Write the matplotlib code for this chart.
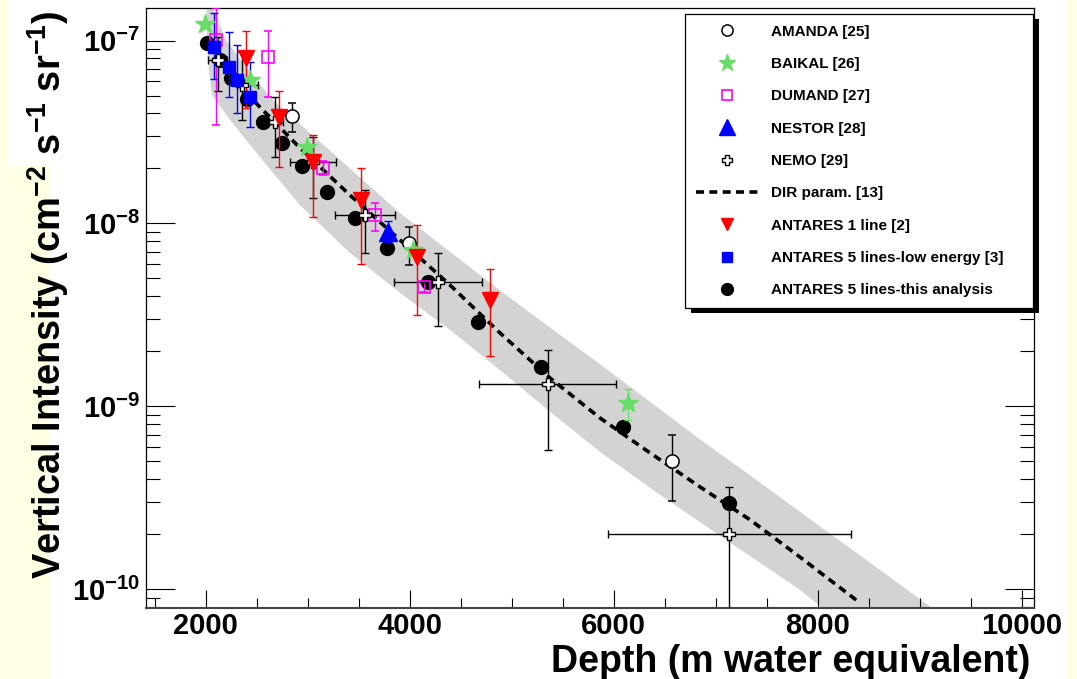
import matplotlib
matplotlib.use("Agg")
import matplotlib.pyplot as plt
import numpy as np
from matplotlib.ticker import FixedLocator, FuncFormatter, MultipleLocator, NullFormatter
from matplotlib.patches import Rectangle

plt.rcParams['font.family'] = ['Liberation Sans', 'DejaVu Sans']
plt.rcParams['font.weight'] = 'bold'
plt.rcParams['mathtext.fontset'] = 'custom'
plt.rcParams['mathtext.rm'] = 'Liberation Sans:bold'
plt.rcParams['mathtext.it'] = 'Liberation Sans:bold'
plt.rcParams['mathtext.bf'] = 'Liberation Sans:bold'
plt.rcParams['mathtext.default'] = 'rm'

# ---------------- data: depth (m w.e.) and vertical intensity (cm^-2 s^-1 sr^-1)
# ANTARES 5 lines - this analysis
a5_depth = [2010, 2137, 2245, 2402, 2559, 2745, 2942, 3187, 3461, 3775, 4177, 4667, 5286, 6090, 7130]
a5_int = [9.71e-8, 7.84e-8, 6.25e-8, 4.80e-8, 3.59e-8, 2.76e-8, 2.06e-8, 1.49e-8, 1.07e-8,
          7.35e-9, 4.79e-9, 2.90e-9, 1.64e-9, 7.72e-10, 2.97e-10]

# ANTARES 5 lines - low energy
le_depth = [2078, 2226, 2304, 2432]
le_int = [9.24e-8, 7.18e-8, 6.10e-8, 4.92e-8]
le_lo = [6.17e-8, 4.92e-8, 4.03e-8, 3.37e-8]
le_hi = [1.417e-7, 1.116e-7, 9.47e-8, 7.65e-8]

# ANTARES 1 line
a1_depth = [2392, 2716, 3049, 3520, 4069, 4786]
a1_int = [8.04e-8, 3.83e-8, 2.17e-8, 1.35e-8, 6.57e-9, 3.82e-9]
a1_lo = [4.29e-8, 2.04e-8, 1.09e-8, 6.01e-9, 3.16e-9, 1.89e-9]
a1_hi = [1.130e-7, 5.31e-8, 3.05e-8, 2.01e-8, 9.82e-9, 5.65e-9]

# AMANDA
am_depth = [2843, 3991, 6571]
am_int = [3.88e-8, 7.83e-9, 5.04e-10]
am_lo = [3.17e-8, 5.94e-9, 3.04e-10]
am_hi = [4.56e-8, 9.58e-9, 6.99e-10]

# BAIKAL
bk_depth = [1990, 2432, 2991, 4030, 6139]
bk_int = [1.234e-7, 6.10e-8, 2.62e-8, 7.17e-9, 1.045e-9]
bk_lo = [1.20e-7, 5.9e-8, 2.55e-8, 7.0e-9, 8.44e-10]
bk_hi = [1.27e-7, 6.3e-8, 2.7e-8, 7.35e-9, 1.25e-9]

# DUMAND
du_depth = [2098, 2608, 3148, 3658, 4138]
du_int = [1.009e-7, 8.14e-8, 2.01e-8, 1.11e-8, 4.5e-9]
du_lo = [3.46e-8, 4.92e-8, 1.85e-8, 9.11e-9, 4.2e-9]
du_hi = [1.50e-7, 1.130e-7, 2.2e-8, 1.30e-8, 4.8e-9]

# NESTOR
ne_depth = [3785]
ne_int = [8.99e-9]
ne_lo = [7.9e-9]
ne_hi = [1.03e-8]

# NEMO
nm_depth = [2118, 2353, 2677, 3049, 3559, 4275, 5354, 7130]
nm_int = [7.84e-8, 5.73e-8, 3.59e-8, 2.17e-8, 1.11e-8, 4.79e-9, 1.33e-9, 2.01e-10]
nm_lo = [5.3e-8, 3.69e-8, 2.31e-8, 1.38e-8, 6.91e-9, 2.75e-9, 5.78e-10, 1.0e-11]
nm_hi = [1.048e-7, 8.67e-8, 4.92e-8, 2.97e-8, 1.53e-8, 6.91e-9, 2.04e-9, 3.63e-10]
nm_dlo = [2020, 2304, 2600, 2824, 3265, 3844, 4678, 5943]
nm_dhi = [2206, 2510, 2760, 3275, 3854, 4707, 6021, 8326]

# DIR parametrisation
dir_depth = [2000, 2235, 2461, 2922, 3412, 3903, 4393, 4884, 5374, 5864, 6355, 6845, 7336, 7826, 8414]
dir_int = [1.03e-7, 6.92e-8, 4.74e-8, 2.59e-8, 1.43e-8, 8.13e-9, 4.61e-9, 2.52e-9, 1.43e-9,
           8.65e-10, 5.57e-10, 3.63e-10, 2.40e-10, 1.50e-10, 8.43e-11]

# uncertainty band edges
band_up_depth = [2010, 2186, 2432, 2677, 2922, 3412, 3903, 4393, 4884, 5374, 5864, 6355,
                 6845, 7336, 7826, 8316, 8807, 9121, 9400]
band_up_int = [1.9e-7, 1.03e-7, 6.7e-8, 4.6e-8, 3.5e-8, 2.0e-8, 1.14e-8, 7.0e-9, 4.3e-9, 2.7e-9,
               1.7e-9, 1.06e-9, 6.6e-10, 4.2e-10, 2.65e-10, 1.68e-10, 1.06e-10, 7.9e-11, 5.6e-11]
band_lo_depth = [2000, 2020, 2059, 2235, 2432, 2922, 3412, 3903, 4393, 4884, 5374, 5864,
                 6355, 6845, 7336, 7826, 8042, 8300]
band_lo_int = [1.9e-7, 7.84e-8, 5.05e-8, 3.69e-8, 2.69e-8, 1.26e-8, 6.90e-9, 4.18e-9, 2.62e-9,
               1.58e-9, 9.35e-10, 5.65e-10, 3.59e-10, 2.33e-10, 1.52e-10, 9.93e-11, 7.93e-11, 6.2e-11]

labels = ['AMANDA [25]', 'BAIKAL [26]', 'DUMAND [27]', 'NESTOR [28]', 'NEMO [29]',
          'DIR param. [13]', 'ANTARES 1 line [2]', 'ANTARES 5 lines-low energy [3]',
          'ANTARES 5 lines-this analysis']

W, H = 1077, 679
fig = plt.figure(figsize=(W / 100, H / 100), dpi=100, facecolor='#FFFFE3')
fig.add_artist(Rectangle((50 / W, 0), (1068 - 50) / W, 1, transform=fig.transFigure,
                         facecolor='white', edgecolor='none', zorder=-5))
fig.add_artist(Rectangle((8 / W, (H - 165) / H), 42 / W, 165 / H, transform=fig.transFigure,
                         facecolor='white', edgecolor='none', zorder=-5))

ax = fig.add_axes([145.7 / W, (H - 607.7) / H, 888.6 / W, 599.4 / H])
ax.set_yscale('log')
ax.set_xlim(1410, 10124)
ax.set_ylim(7.93e-11, 1.50e-7)


def asym(y, lo, hi):
    y, lo, hi = map(np.asarray, (y, lo, hi))
    return [y - lo, hi - y]


# band and parametrisation
ax.fill(np.concatenate([band_up_depth, band_lo_depth[::-1]]),
        np.concatenate([band_up_int, band_lo_int[::-1]]),
        facecolor='#D3D3D3', edgecolor='none', zorder=1)
dir_line, = ax.plot(dir_depth, dir_int, color='black', lw=2.6, ls=(0, (2.2, 1.5)), zorder=2)

ebkw = dict(capsize=3, elinewidth=1.0, capthick=1.0, ls='none')

h_a5 = ax.errorbar(a5_depth, a5_int, fmt='o', color='black', ms=10, zorder=3, ls='none')
h_am = ax.errorbar(am_depth, am_int, yerr=asym(am_int, am_lo, am_hi), fmt='o', color='black',
                   mfc='white', mec='black', mew=1.1, ms=9.5, zorder=4, **ebkw)
h_bk = ax.errorbar(bk_depth, bk_int, yerr=asym(bk_int, bk_lo, bk_hi), fmt='*', color='#66DD66',
                   ms=15, zorder=4, **ebkw)
h_du = ax.errorbar(du_depth, du_int, yerr=asym(du_int, du_lo, du_hi), fmt='s', color='#FF00FF',
                   mfc='none', mec='#FF00FF', mew=1.2, ms=8.5, zorder=4, **ebkw)
h_ne = ax.errorbar(ne_depth, ne_int, yerr=asym(ne_int, ne_lo, ne_hi), fmt='^', color='#0000FF',
                   ms=13, zorder=4, **ebkw)
h_nm = ax.errorbar(nm_depth, nm_int, yerr=asym(nm_int, nm_lo, nm_hi),
                   xerr=asym(nm_depth, nm_dlo, nm_dhi), fmt='P', color='black', mfc='white',
                   mec='black', mew=1.0, ms=9, zorder=4, **ebkw)
h_a1 = ax.errorbar(a1_depth, a1_int, yerr=asym(a1_int, a1_lo, a1_hi), fmt='v', color='#FF0000',
                   ms=11, zorder=4, **ebkw)
h_le = ax.errorbar(le_depth, le_int, yerr=asym(le_int, le_lo, le_hi), fmt='s', color='#0000FF',
                   ms=8.5, zorder=4, **ebkw)

# axes styling
for s in ax.spines.values():
    s.set_color('black')
    s.set_linewidth(0.9)
ax.spines['bottom'].set_color('#444444')
ax.spines['bottom'].set_linewidth(1.5)

ax.xaxis.set_major_locator(FixedLocator([2000, 4000, 6000, 8000, 10000]))
ax.xaxis.set_minor_locator(MultipleLocator(500))
ax.yaxis.set_major_locator(FixedLocator([1e-10, 1e-9, 1e-8, 1e-7]))
ax.yaxis.set_minor_locator(FixedLocator([m * 10.0 ** e for e in range(-11, -6) for m in range(2, 10)]))
ax.yaxis.set_minor_formatter(NullFormatter())
ax.yaxis.set_major_formatter(FuncFormatter(lambda v, p: r'$10^{%d}$' % int(round(np.log10(v)))))
ax.xaxis.set_major_formatter(FuncFormatter(lambda v, p: '%d' % v))

ax.tick_params(axis='both', which='both', direction='in', color='black', width=0.8,
               top=False, right=True, labelsize=21)
ax.tick_params(axis='x', which='major', length=13, pad=3)
ax.tick_params(axis='x', which='minor', length=7)
ax.tick_params(axis='y', which='major', length=21, pad=4)
ax.tick_params(axis='y', which='minor', length=10)
for lab in ax.get_xticklabels() + ax.get_yticklabels():
    lab.set_fontweight('bold')

fig.text(0.0446, (H - 579) / H, r'Vertical Intensity (cm$^{-2}$ s$^{-1}$ sr$^{-1}$)',
         rotation=90, ha='center', va='bottom', fontsize=27.4, fontweight='bold')
fig.text(1030 / W, (H - 672) / H, 'Depth (m water equivalent)', ha='right', va='baseline',
         fontsize=27, fontweight='bold')

# legend
handles = [h_am[0], h_bk[0], h_du[0], h_ne[0], h_nm[0], dir_line, h_a1[0], h_le[0], h_a5[0]]
x0 = (685 - 145.7) / 888.6
x1 = (1033 - 145.7) / 888.6
ytop = (607.7 - 14) / 599.4
leg = ax.legend(handles, labels, loc='upper left', bbox_to_anchor=(x0, ytop, x1 - x0, 0),
                mode='expand', borderaxespad=0, prop={'weight': 'bold', 'size': 11},
                frameon=True, fancybox=False, edgecolor='black', framealpha=1,
                borderpad=0.7, labelspacing=1.2, handlelength=4.09, handletextpad=0.83,
                numpoints=1, markerscale=0.85)
leg.get_frame().set_linewidth(0.9)
leg.set_zorder(10)

fig.canvas.draw()
bb = leg.get_window_extent()
inv = ax.transAxes.inverted()
(sx0, sy0), (sx1, sy1) = inv.transform([(bb.x0 + 6, bb.y0 - 5), (bb.x1 + 6, bb.y1 - 5)])
ax.add_patch(Rectangle((sx0, sy0), sx1 - sx0, sy1 - sy0, transform=ax.transAxes,
                       facecolor='black', edgecolor='none', clip_on=False, zorder=9))

fig.savefig('out.png', dpi=100, facecolor=fig.get_facecolor())
